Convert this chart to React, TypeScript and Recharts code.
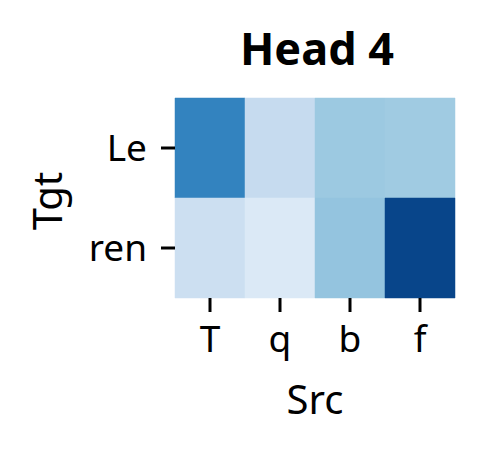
import React from 'react';
import { BarChart, Bar, XAxis, YAxis, Cell, Label } from 'recharts';

const tgtLabels = ['Le', 'ren'];
const srcLabels = ['T', 'q', 'b', 'f'];
const rowLe = [0.68, 0.25, 0.38, 0.37];
const rowRen = [0.22, 0.14, 0.4, 0.92];
const weights = [rowLe, rowRen];
const xTicks = [0.5, 1.5, 2.5, 3.5];

const bluesStops = ['#f7fbff', '#deebf7', '#c6dbef', '#9ecae1', '#6baed6', '#4292c6', '#2171b5', '#08519c', '#08306b'];

function hexToRgb(h: string) {
  return [parseInt(h.slice(1, 3), 16), parseInt(h.slice(3, 5), 16), parseInt(h.slice(5, 7), 16)];
}
function blues(t: number) {
  const v = Math.max(0, Math.min(1, t)) * (bluesStops.length - 1);
  const i = Math.min(Math.floor(v), bluesStops.length - 2);
  const f = v - i;
  const a = hexToRgb(bluesStops[i]);
  const b = hexToRgb(bluesStops[i + 1]);
  const c = a.map((x, k) => Math.round(x + (b[k] - x) * f));
  return `rgb(${c[0]},${c[1]},${c[2]})`;
}

const data = tgtLabels.map((tgt) => {
  const row: any = { tgt };
  srcLabels.forEach((_, j) => (row['c' + j] = 1));
  return row;
});

const FONT = '"Noto Sans", sans-serif';

export default function App() {
  return (
    <div style={{ position: 'absolute', left: 0, top: 0, width: 484, height: 454, background: '#fff', fontFamily: FONT }}>
      <div
        style={{
          position: 'absolute',
          left: 177,
          width: 280,
          top: 25,
          textAlign: 'center',
          fontSize: 45,
          lineHeight: '45px',
          fontWeight: 700,
          color: '#000',
          whiteSpace: 'nowrap',
        }}
      >
        Head 4
      </div>
      <BarChart
        width={484}
        height={454}
        data={data}
        layout="vertical"
        barCategoryGap={0}
        margin={{ top: 98, right: 29, bottom: 0, left: 0 }}
      >
        <XAxis
          type="number"
          domain={[0, 4]}
          ticks={xTicks}
          tickFormatter={(v: number) => srcLabels[Math.floor(v)]}
          axisLine={false}
          tickSize={14}
          tickMargin={14}
          tickLine={{ stroke: '#000', strokeWidth: 3 }}
          tick={{ fill: '#000', fontSize: 37, fontFamily: FONT }}
          height={156}
          interval={0}
        >
          <Label
            content={(props: any) => {
              const vb = props.viewBox || {};
              const cx = (vb.x ?? 175) + (vb.width ?? 280) / 2;
              return (
                <text x={cx} y={414} textAnchor="middle" fill="#000" fontSize={40} fontFamily={FONT}>
                  Src
                </text>
              );
            }}
          />
        </XAxis>
        <YAxis
          type="category"
          dataKey="tgt"
          width={175}
          axisLine={false}
          tickSize={14}
          tickMargin={14}
          tickLine={{ stroke: '#000', strokeWidth: 3 }}
          tick={{ fill: '#000', fontSize: 37, fontFamily: FONT }}
          interval={0}
        >
          <Label
            content={(props: any) => {
              const vb = props.viewBox || {};
              const cy = (vb.y ?? 98) + (vb.height ?? 200) / 2 + 3;
              const bx = 62;
              return (
                <text
                  transform={`translate(${bx} ${cy}) rotate(-90)`}
                  textAnchor="middle"
                  fill="#000"
                  fontSize={40}
                  fontFamily={FONT}
                >
                  Tgt
                </text>
              );
            }}
          />
        </YAxis>
        {srcLabels.map((_, j) => (
          <Bar key={j} dataKey={'c' + j} stackId="a" isAnimationActive={false}>
            {weights.map((row, i) => (
              <Cell key={i} fill={blues(row[j])} stroke={blues(row[j])} strokeWidth={0.5} />
            ))}
          </Bar>
        ))}
      </BarChart>
    </div>
  );
}
